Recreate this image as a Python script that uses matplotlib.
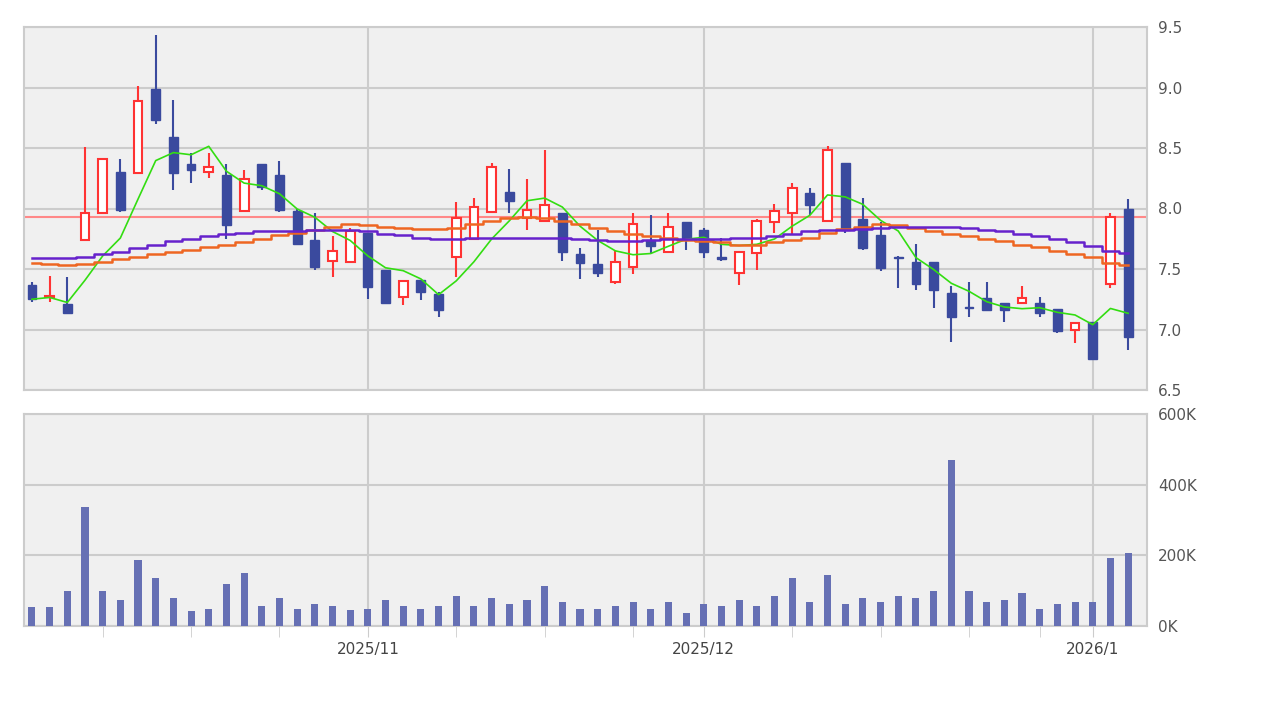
import matplotlib
matplotlib.use("Agg")
import matplotlib.pyplot as plt
import numpy as np
import pandas as pd

opens  = [7.37,7.27,7.21,7.74,7.96,8.30,8.29,8.99,8.59,8.37,8.30,8.28,7.98,8.37,8.28,7.98,7.74,7.57,7.56,7.80,
          7.49,7.27,7.41,7.29,7.60,7.75,7.97,8.14,7.92,7.90,7.96,7.62,7.54,7.39,7.52,7.74,7.64,7.89,7.82,7.60,
          7.47,7.63,7.89,7.96,8.13,7.90,8.38,7.91,7.78,7.60,7.56,7.56,7.30,7.19,7.26,7.22,7.22,7.22,7.17,7.00,
          7.06,7.38,8.00]
highs  = [7.39,7.44,7.43,8.51,8.42,8.41,9.01,9.43,8.90,8.46,8.46,8.37,8.32,8.37,8.39,8.00,7.96,7.77,7.84,7.80,
          7.49,7.41,7.41,7.31,8.05,8.09,8.38,8.33,8.24,8.48,7.96,7.67,7.82,7.66,7.96,7.95,7.96,7.89,7.84,7.76,
          7.64,7.91,8.04,8.21,8.17,8.52,8.38,8.09,7.89,7.61,7.71,7.56,7.36,7.39,7.39,7.22,7.36,7.27,7.17,7.05,
          7.06,7.96,8.08]
lows   = [7.23,7.23,7.13,7.74,7.96,7.97,8.29,8.70,8.15,8.21,8.25,7.75,7.97,8.15,7.97,7.71,7.49,7.43,7.56,7.25,
          7.22,7.20,7.24,7.10,7.43,7.75,7.97,7.96,7.82,7.90,7.57,7.42,7.43,7.38,7.46,7.62,7.64,7.66,7.59,7.57,
          7.37,7.49,7.80,7.78,7.95,7.90,7.80,7.66,7.48,7.34,7.33,7.18,6.90,7.10,7.16,7.06,7.21,7.10,6.97,6.89,
          6.75,7.34,6.83]
closes = [7.25,7.28,7.14,7.96,8.41,7.99,8.89,8.73,8.29,8.32,8.34,7.86,8.24,8.18,7.99,7.71,7.52,7.65,7.81,7.35,
          7.22,7.40,7.31,7.16,7.92,8.01,8.34,8.06,7.99,8.03,7.64,7.55,7.47,7.56,7.87,7.69,7.85,7.76,7.64,7.58,
          7.64,7.90,7.98,8.17,8.03,8.48,7.82,7.67,7.51,7.59,7.38,7.33,7.10,7.18,7.16,7.16,7.26,7.14,6.99,7.05,
          6.76,7.93,6.94]
volumes = [54,54,99,337,99,74,187,136,79,42,48,119,150,57,79,48,62,57,45,48,
           74,57,48,57,85,57,79,62,74,113,68,48,48,57,68,48,68,37,62,57,
           74,57,85,136,68,144,62,79,68,85,79,99,470,99,68,74,93,48,62,68,
           68,193,207]
ma_orange = [7.55,7.54,7.53,7.54,7.56,7.58,7.60,7.62,7.64,7.66,7.68,7.70,7.72,7.75,7.78,7.80,7.82,7.85,7.87,7.86,
             7.85,7.84,7.83,7.83,7.84,7.87,7.90,7.92,7.93,7.92,7.90,7.87,7.84,7.81,7.79,7.77,7.76,7.74,7.73,7.72,
             7.70,7.70,7.72,7.74,7.76,7.80,7.83,7.85,7.87,7.86,7.84,7.81,7.79,7.77,7.75,7.73,7.70,7.68,7.65,7.62,
             7.60,7.55,7.53]
ma_purple = [7.59,7.59,7.59,7.60,7.62,7.64,7.67,7.70,7.73,7.75,7.77,7.79,7.80,7.81,7.81,7.81,7.82,7.82,7.82,7.81,
             7.79,7.78,7.76,7.75,7.75,7.76,7.76,7.76,7.76,7.76,7.76,7.75,7.74,7.73,7.73,7.74,7.75,7.75,7.75,7.75,
             7.76,7.76,7.77,7.79,7.81,7.82,7.82,7.83,7.84,7.85,7.85,7.85,7.85,7.84,7.82,7.81,7.79,7.77,7.75,7.72,
             7.69,7.65,7.63]
ref_line = 7.93
date_ticks = {19: "2025/11", 38: "2025/12", 60: "2026/1"}
minor_idx = [4, 9, 14, 24, 29, 34, 43, 48, 53, 57]

BLUE = "#3a4a9e"; RED = "#ff3333"; GRID = "#cccccc"; BG = "#f0f0f0"
fig = plt.figure(figsize=(12.8, 7.2), dpi=100)
ax = fig.add_axes([24/1280, 1-390/720, 1123/1280, 363/720])
av = fig.add_axes([24/1280, 1-626/720, 1123/1280, 212/720])
n = len(closes)
x = np.arange(n)
for a in (ax, av):
    a.set_facecolor(BG)
    a.set_xlim(-0.45, n - 1 + 1.07)
    for s in a.spines.values():
        s.set_color(GRID); s.set_linewidth(1.5)
    a.set_xticks(list(date_ticks.keys()))
    a.grid(True, color=GRID, linewidth=1.5)
    a.set_axisbelow(True)
    a.yaxis.tick_right()
    a.tick_params(axis="y", length=0, labelsize=11, colors="#555555", pad=8)

w = 0.5
for i in x:
    o, h, l, c = opens[i], highs[i], lows[i], closes[i]
    if c >= o:
        ax.vlines(i, l, o, color=RED, lw=1.5, zorder=3)
        ax.vlines(i, c, h, color=RED, lw=1.5, zorder=3)
        ax.add_patch(plt.Rectangle((i - w/2, o), w, max(c - o, 0.008), facecolor="white",
                                   edgecolor=RED, lw=1.5, zorder=4))
    else:
        ax.vlines(i, l, h, color=BLUE, lw=1.5, zorder=3)
        ax.add_patch(plt.Rectangle((i - w/2, c), w, o - c, facecolor=BLUE,
                                   edgecolor=BLUE, lw=1, zorder=4))
ma5 = pd.Series(closes).rolling(5, min_periods=1).mean()
ax.plot(x, ma5, color="#33dd11", lw=1.2, zorder=5)
ax.step(x, ma_orange, where="mid", color="#ee6622", lw=1.8, zorder=5)
ax.step(x, ma_purple, where="mid", color="#6622cc", lw=1.8, zorder=5)
ax.axhline(ref_line, color="#ff8888", lw=1.5, zorder=2)
ax.set_ylim(6.5, 9.5)
ax.set_yticks(np.arange(6.5, 9.51, 0.5))
ax.set_yticklabels([f"{v:.1f}" for v in np.arange(6.5, 9.51, 0.5)])
ax.tick_params(axis="x", length=0, labelbottom=False)

av.bar(x, volumes, width=0.4, color="#6670b4", zorder=3)
av.set_ylim(0, 600)
av.set_yticks([0, 200, 400, 600])
av.set_yticklabels(["0K", "200K", "400K", "600K"])
av.set_xticklabels(list(date_ticks.values()))
av.tick_params(axis="x", length=8, color=GRID, labelsize=11, labelcolor="#444444")
av.set_xticks(minor_idx, minor=True)
av.tick_params(axis="x", which="minor", length=8, color=GRID)

fig.savefig("out.png", dpi=100)
